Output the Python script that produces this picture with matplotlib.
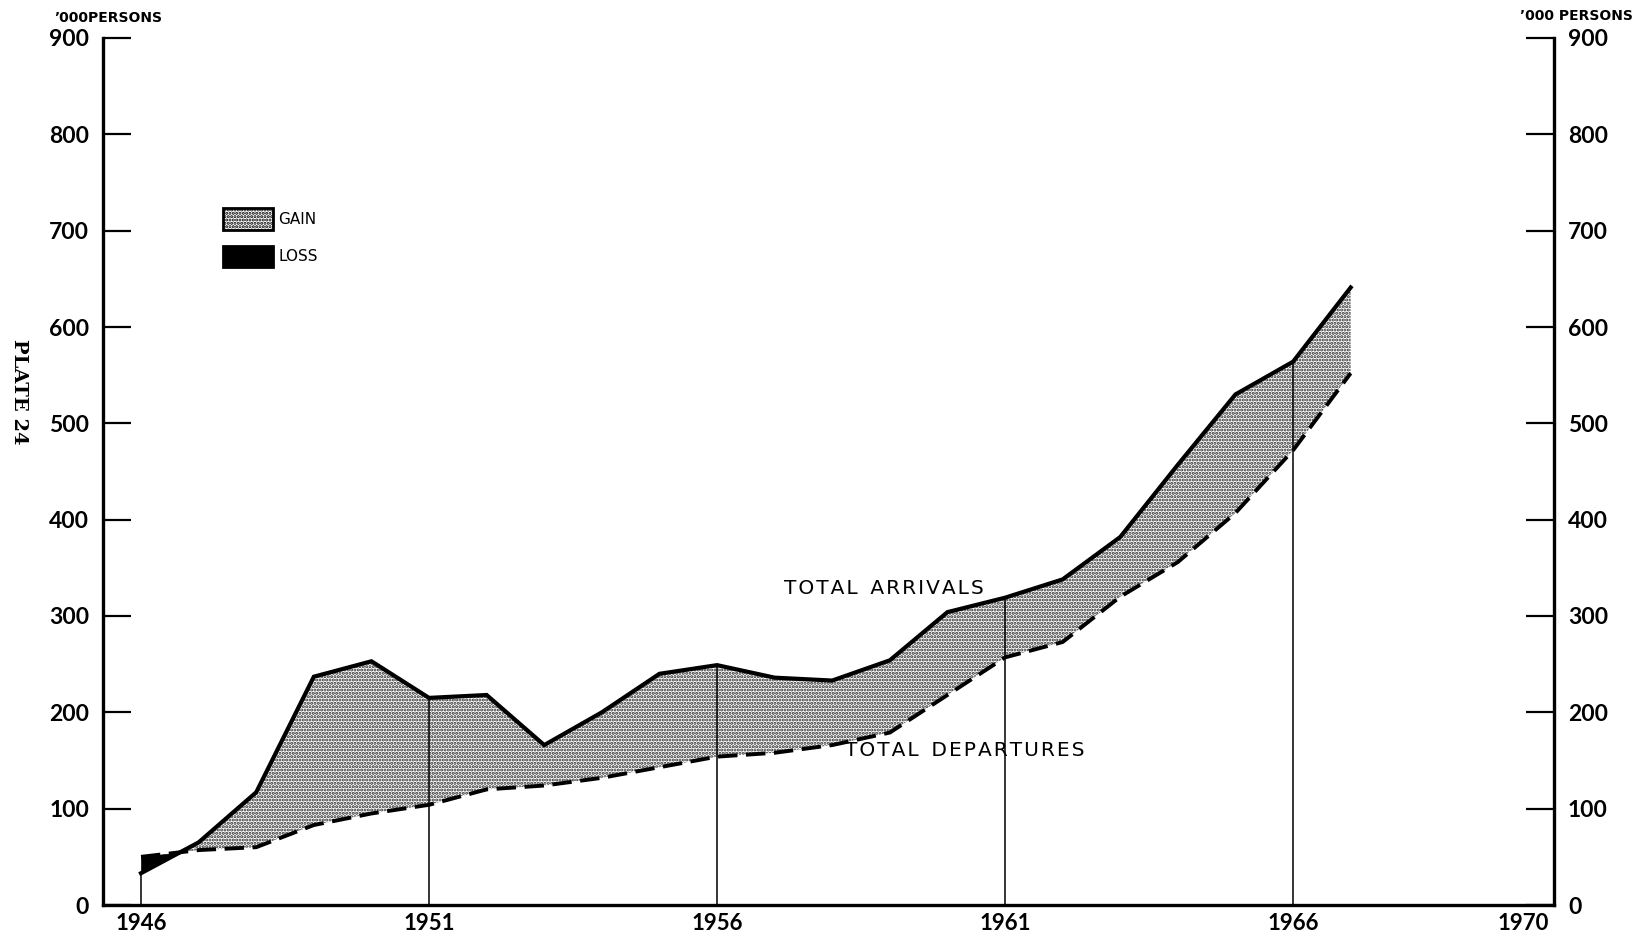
import matplotlib
matplotlib.use("Agg")
import matplotlib.pyplot as plt
from matplotlib.patches import Patch
import numpy as np

years = [1946, 1947, 1948, 1949, 1950, 1951, 1952, 1953, 1954, 1955, 1956,
         1957, 1958, 1959, 1960, 1961, 1962, 1963, 1964, 1965, 1966, 1967]
arrivals = [33, 65, 117, 237, 253, 215, 218, 166, 200, 240, 249,
            236, 233, 254, 304, 319, 338, 382, 457, 530, 564, 641]
departures = [50, 57, 60, 83, 95, 104, 120, 124, 132, 143, 154,
              158, 166, 179, 218, 257, 273, 320, 356, 407, 472, 552]
marker_years = [1946, 1951, 1956, 1961, 1966]
xtick_labels = [1946, 1951, 1956, 1961, 1966, 1970]
ytick_values = [0, 100, 200, 300, 400, 500, 600, 700, 800, 900]

plt.rcParams['font.family'] = ['Lato', 'DejaVu Sans']
plt.rcParams['hatch.linewidth'] = 1.5


def spaced(s):
    return '\u200a'.join(s)


W, H = 1639, 934
fig = plt.figure(figsize=(W / 100, H / 100), dpi=100)
ax = fig.add_axes([103 / W, 1 - 905 / H, (1554 - 103) / W, (905 - 38) / H])

x = np.array(years, dtype=float)
a = np.array(arrivals, dtype=float)
d = np.array(departures, dtype=float)

HATCH = '.....'
# gain (stippled) and loss (black)
ax.fill_between(x, d, a, where=a >= d, interpolate=True, facecolor='white',
                edgecolor='#2a2a2a', hatch=HATCH, linewidth=0, zorder=1)
ax.fill_between(x, d, a, where=a < d, interpolate=True, facecolor='black',
                edgecolor='black', linewidth=0.5, zorder=2)

ax.plot(x, a, color='black', lw=3.0, solid_joinstyle='miter', zorder=4)
ax.plot(x, d, color='black', lw=2.8, dashes=(5, 2.2), zorder=4)

mk_idx = [years.index(y) for y in marker_years]
ax.vlines([years[i] for i in mk_idx], 0, [arrivals[i] for i in mk_idx],
          color='black', lw=1.1, zorder=3)

ax.set_xlim(1945.34, 1970.53)
ax.set_ylim(0, 900)

for s in ['left', 'right', 'bottom']:
    ax.spines[s].set_linewidth(2.4)
ax.spines['top'].set_visible(False)

ax.set_yticks(ytick_values)
ax.set_yticklabels([str(v) for v in ytick_values])
ax.yaxis.set_ticks_position('both')
ax.tick_params(axis='y', direction='in', length=20, width=1.6, pad=10,
               labelsize=16.5, labelright=True, labelleft=True)
for t in ax.yaxis.get_major_ticks():
    t.label1.set_fontweight('bold')
    t.label2.set_fontweight('bold')

ax.set_xticks(xtick_labels)
ax.set_xticklabels([str(v) for v in xtick_labels])
ax.tick_params(axis='x', length=0, pad=6, labelsize=16)
for t in ax.xaxis.get_major_ticks():
    t.label1.set_fontweight('bold')

ax.text(1958.9, 329, spaced('TOTAL') + '  ' + spaced('ARRIVALS'),
        fontsize=14.5, ha='center', va='center', family=['DejaVu Sans'])
ax.text(1960.3, 160, spaced('TOTAL') + '  ' + spaced('DEPARTURES'),
        fontsize=14.5, ha='center', va='center', family=['DejaVu Sans'])

fig.text(54 / W, 1 - 18 / H, '\u2019000PERSONS', fontsize=10, fontweight='bold',
         ha='left', va='center', family=['DejaVu Sans'])
fig.text(1520 / W, 1 - 16 / H, '\u2019000 PERSONS', fontsize=10,
         fontweight='bold', ha='left', va='center', family=['DejaVu Sans'])
fig.text(19 / W, 1 - 392 / H, 'PLATE 24', rotation=-90, fontsize=14,
         fontweight='bold', family=['DejaVu Serif'], ha='center', va='center')

handles = [Patch(facecolor='white', edgecolor='black', hatch=HATCH, lw=2,
                 label='GAIN'),
           Patch(facecolor='black', edgecolor='black', lw=2, label='LOSS')]
leg = fig.legend(handles=handles, loc='upper left',
                 bbox_to_anchor=(223 / W, 1 - 208 / H), frameon=False,
                 prop={'family': 'DejaVu Sans', 'size': 11},
                 handlelength=3.3, handleheight=1.8,
                 labelspacing=1.05, handletextpad=0.3, borderpad=0,
                 borderaxespad=0)

fig.savefig('out.png', dpi=100)
